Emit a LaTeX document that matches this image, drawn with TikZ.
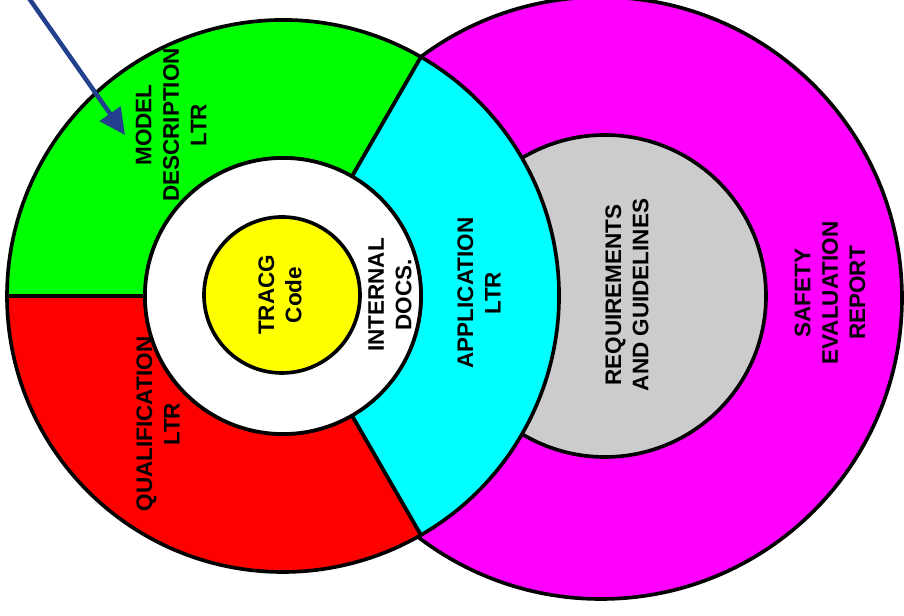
\documentclass[tikz,border=0pt]{standalone}
\usepackage{fontspec}
\setsansfont{Liberation Sans}
\usetikzlibrary{arrows.meta,calc}
\definecolor{arrowblue}{RGB}{35,64,143}
\definecolor{reqgray}{RGB}{204,204,204}
\definecolor{sermagenta}{RGB}{255,0,255}
\definecolor{applcyan}{RGB}{0,255,255}
\definecolor{modelgreen}{RGB}{0,255,0}
\definecolor{qualred}{RGB}{255,0,0}
\definecolor{codeyellow}{RGB}{255,255,0}
\begin{document}
\begin{tikzpicture}[x=0.025cm, y=0.025cm]
    \tikzset{
        ringtext/.style={font=\sffamily\bfseries\fontsize{16}{19.5}\selectfont, align=center, rotate=90, inner sep=0pt},
        ring/.style={draw=black, line width=2.6pt, line join=round},
        pointer/.style={-{Triangle[length=0.65cm, width=0.62cm]}, draw=arrowblue, fill=arrowblue, line width=3.2pt}
    }
    \useasboundingbox (0,0) rectangle (904,616);

    % right circle
    \draw[ring, fill=sermagenta] (601,318) circle (301);
    \draw[ring, fill=reqgray] (605,320) circle (161);

    % left circle, three sectors of the ring
    \coordinate (c) at (283,320);
    \draw[ring, fill=modelgreen] ($(c)+(60:276)$) arc (60:180:276) -- ($(c)+(180:138)$) arc (180:60:138) -- cycle;
    \draw[ring, fill=qualred] ($(c)+(180:276)$) arc (180:300:276) -- ($(c)+(300:138)$) arc (300:180:138) -- cycle;
    \draw[ring, fill=applcyan] ($(c)+(-60:276)$) arc (-60:60:276) -- ($(c)+(60:138)$) arc (60:-60:138) -- cycle;
    \draw[ring, fill=white] (c) circle (138);
    \draw[ring, fill=codeyellow] (282,321) circle (78);

    \draw node[ringtext] (model) at (171,491) {MODEL\\DESCRIPTION\\LTR};
    \draw node[ringtext] (qual) at (158,192) {QUALIFICATION\\LTR};
    \draw node[ringtext] (tracg) at (280,321) {TRACG\\Code};
    \draw node[ringtext] (internal) at (390,321) {INTERNAL\\DOCS.};
    \draw node[ringtext] (appl) at (479,323) {APPLICATION\\LTR};
    \draw node[ringtext] (req) at (627,321) {REQUIREMENTS\\AND GUIDELINES};
    \draw node[ringtext] (ser) at (830,323) {SAFETY\\EVALUATION\\REPORT};

    % pointer from outside
    \coordinate (pstart) at (26,622);
    \coordinate (ptip) at (125,481);
    \draw[pointer] (pstart) -- (ptip);
\end{tikzpicture}
\end{document}
